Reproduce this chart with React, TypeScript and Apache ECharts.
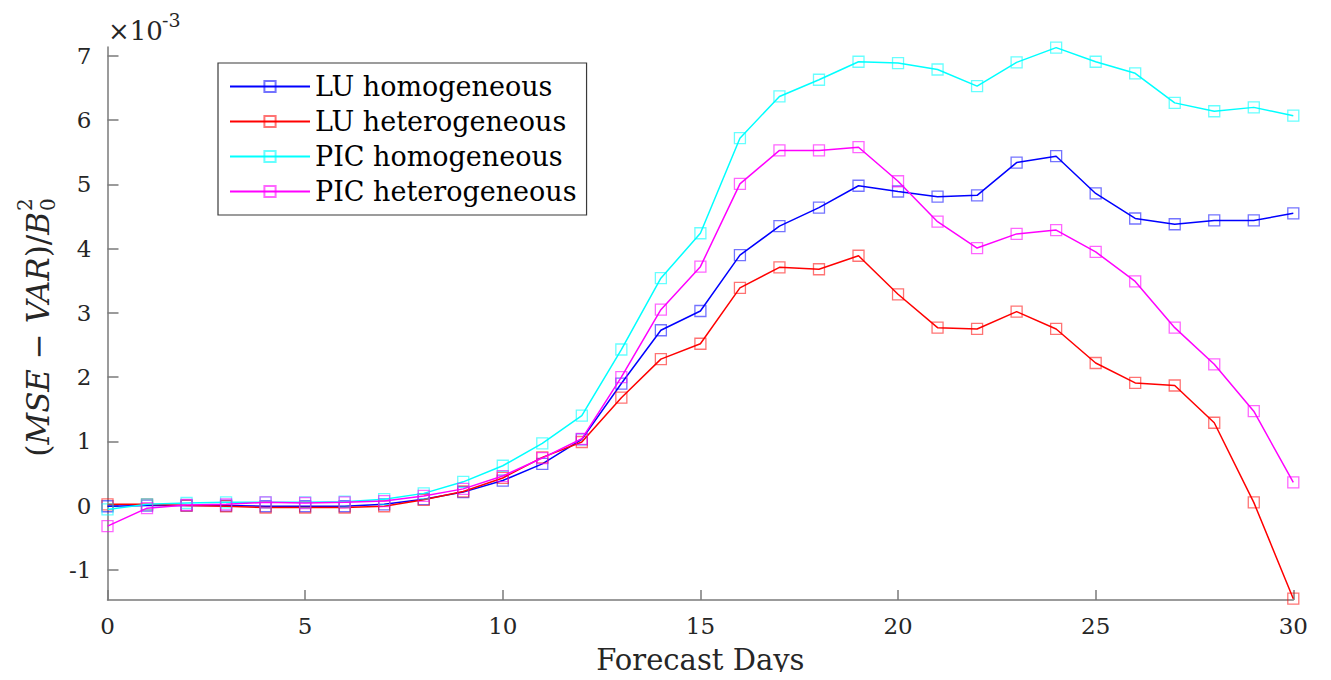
import React, { useEffect, useRef } from "react";
import * as echarts from "echarts";

const days = [0, 1, 2, 3, 4, 5, 6, 7, 8, 9, 10, 11, 12, 13, 14, 15, 16, 17, 18, 19, 20, 21, 22, 23, 24, 25, 26, 27, 28, 29, 30];
const luHomogeneous = [-0.01, 0.0, 0.0, 0.0, -0.01, -0.01, -0.01, 0.02, 0.1, 0.21, 0.39, 0.65, 1.03, 1.9, 2.73, 3.03, 3.9, 4.35, 4.64, 4.98, 4.89, 4.81, 4.83, 5.34, 5.44, 4.86, 4.47, 4.38, 4.44, 4.44, 4.55];
const luHeterogeneous = [0.02, 0.02, 0.0, -0.01, -0.03, -0.03, -0.03, -0.01, 0.09, 0.22, 0.43, 0.75, 0.99, 1.68, 2.28, 2.52, 3.39, 3.71, 3.68, 3.89, 3.29, 2.77, 2.75, 3.02, 2.75, 2.22, 1.91, 1.87, 1.29, 0.05, -1.45];
const picHomogeneous = [-0.06, 0.02, 0.04, 0.05, 0.05, 0.05, 0.06, 0.1, 0.19, 0.37, 0.62, 0.97, 1.4, 2.43, 3.54, 4.24, 5.72, 6.37, 6.63, 6.91, 6.89, 6.79, 6.53, 6.9, 7.13, 6.91, 6.73, 6.27, 6.14, 6.2, 6.07];
const picHeterogeneous = [-0.32, -0.04, 0.01, 0.02, 0.05, 0.04, 0.05, 0.07, 0.15, 0.26, 0.46, 0.74, 1.04, 2.0, 3.05, 3.72, 5.01, 5.53, 5.53, 5.58, 5.05, 4.42, 4.01, 4.23, 4.29, 3.95, 3.49, 2.77, 2.2, 1.47, 0.36];

const seriesNames = ["LU homogeneous", "LU heterogeneous", "PIC homogeneous", "PIC heterogeneous"];
const seriesValues = [luHomogeneous, luHeterogeneous, picHomogeneous, picHeterogeneous];
const seriesColors = ["#0000ff", "#ff0000", "#00ffff", "#ff00ff"];
const markerColors = ["rgba(0,0,255,0.55)", "rgba(255,0,0,0.55)", "rgba(0,255,255,0.6)", "rgba(255,0,255,0.6)"];

const yTicks = [-1, 0, 1, 2, 3, 4, 5, 6, 7];
const xTicks = [0, 5, 10, 15, 20, 25, 30];

const FONT = "DejaVu Serif";
const TXT = "#262626";
const AXIS = "#7a7a7a";

export default function App() {
  const ref = useRef<HTMLDivElement>(null);
  useEffect(() => {
    if (!ref.current) return;
    const chart = echarts.init(ref.current, undefined, { renderer: "svg" });
    const square = "path://M0,0H10V10H0Z";
    chart.setOption({
      animation: false,
      backgroundColor: "#ffffff",
      grid: { left: 107.5, right: 37.7, top: 47, bottom: 80, containLabel: false },
      legend: {
        orient: "vertical",
        left: 218,
        top: 63,
        padding: [10, 10, 10, 11],
        itemWidth: 80,
        itemHeight: 14,
        itemGap: 8,
        borderColor: "#3a3a3a",
        borderWidth: 1.2,
        backgroundColor: "#ffffff",
        textStyle: { fontFamily: FONT, fontSize: 27, color: "#000" },
        data: seriesNames,
      },
      xAxis: {
        type: "value",
        min: 0,
        max: 30,
        interval: 5,
        name: "Forecast Days",
        nameLocation: "middle",
        nameGap: 45,
        nameTextStyle: { fontFamily: FONT, fontSize: 29, color: TXT },
        axisLine: { show: true, onZero: false, lineStyle: { color: AXIS, width: 1.5 } },
        axisTick: { show: true, inside: true, length: 10, lineStyle: { color: AXIS, width: 1.5 } },
        axisLabel: { fontFamily: FONT, fontSize: 23, color: TXT, margin: 14, customValues: xTicks },
        splitLine: { show: false },
      },
      yAxis: {
        type: "value",
        min: -1.47,
        max: 7.14,
        axisLine: { show: true, onZero: false, lineStyle: { color: AXIS, width: 1.5 } },
        axisTick: { show: true, inside: true, length: 11, lineStyle: { color: AXIS, width: 1.5 }, customValues: yTicks },
        axisLabel: { fontFamily: FONT, fontSize: 23, color: TXT, margin: 16, customValues: yTicks },
        splitLine: { show: false },
      },
      series: seriesNames.map((name, i) => ({
        name,
        type: "line",
        data: days.map((d, j) => [d, seriesValues[i][j]]),
        symbol: square,
        symbolSize: 11,
        showSymbol: true,
        lineStyle: { color: seriesColors[i], width: 1.5 },
        itemStyle: { color: "transparent", borderColor: markerColors[i], borderWidth: 1.3 },
        emphasis: { disabled: true },
        z: 2 + i,
      })),
      graphic: [
        {
          type: "group",
          x: 38,
          y: 212,
          rotation: Math.PI / 2,
          children: [
            {
              type: "text",
              x: 0,
              y: 0,
              style: {
                text: "{u|(}{i|MSE}{u| − }{i|VAR}{u|)/}{i|B}",
                align: "right",
                verticalAlign: "middle",
                fill: TXT,
                rich: {
                  u: { fontFamily: FONT, fontSize: 31, fill: TXT },
                  i: { fontFamily: FONT, fontSize: 31, fontStyle: "italic", fill: TXT },
                },
              },
            },
            {
              type: "text",
              x: 1,
              y: 10,
              style: { text: "0", fontFamily: FONT, fontSize: 20, fill: TXT, align: "left", verticalAlign: "middle" },
            },
            {
              type: "text",
              x: 1,
              y: -13,
              style: { text: "2", fontFamily: FONT, fontSize: 20, fill: TXT, align: "left", verticalAlign: "middle" },
            },
          ],
        },
        {
          type: "text",
          x: 108,
          y: 31,
          style: { text: "×10", fontFamily: FONT, fontSize: 26, fill: TXT, align: "left", verticalAlign: "middle" },
        },
        {
          type: "text",
          x: 162,
          y: 20,
          style: { text: "-3", fontFamily: FONT, fontSize: 19, fill: TXT, align: "left", verticalAlign: "middle" },
        },
      ],
    });
    return () => chart.dispose();
  }, []);
  return <div ref={ref} style={{ width: 1331, height: 680, margin: -8 }} />;
}
